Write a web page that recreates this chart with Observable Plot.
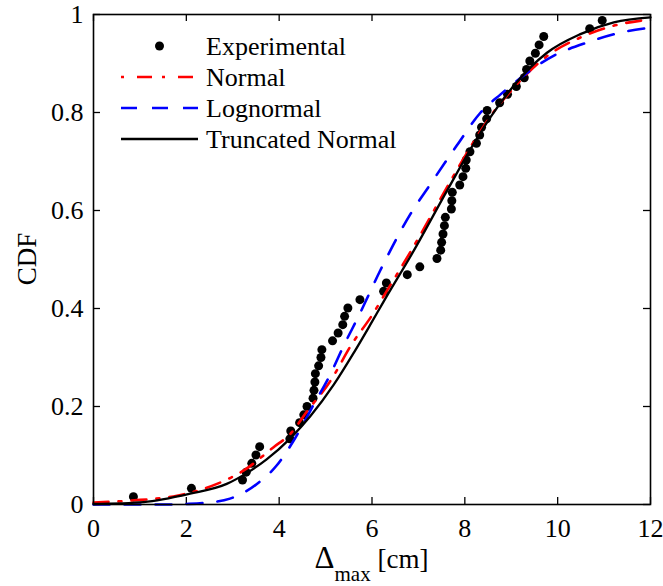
<!DOCTYPE html>
<html><head><meta charset="utf-8">
<script src="https://cdn.jsdelivr.net/npm/d3@7"></script>
<script src="https://cdn.jsdelivr.net/npm/@observablehq/plot@0.6"></script>
<style>
body{margin:0;background:#fff;}
#wrap{position:relative;width:663px;height:586px;}
svg, svg text, svg tspan{font-family:"Liberation Serif",serif !important;}
</style></head><body><div id="wrap"></div>
<script>
// Experimental CDF points
const expX = [0.86,2.11,3.21,3.29,3.41,3.50,3.58,4.23,4.25,4.44,4.53,4.60,4.73,4.75,4.77,4.78,4.85,4.90,4.92,5.15,5.27,5.37,5.41,5.48,5.74,6.25,6.31,6.76,7.03,7.40,7.48,7.50,7.53,7.56,7.58,7.71,7.72,7.73,7.89,7.96,8.02,8.03,8.11,8.25,8.32,8.36,8.47,8.48,8.75,8.92,9.11,9.28,9.33,9.40,9.52,9.60,9.70,10.69,10.96];
const expY = [0.016,0.033,0.050,0.066,0.084,0.101,0.118,0.134,0.150,0.167,0.183,0.200,0.217,0.233,0.250,0.267,0.283,0.300,0.316,0.334,0.350,0.367,0.384,0.401,0.418,0.435,0.452,0.469,0.485,0.502,0.519,0.535,0.552,0.569,0.586,0.603,0.620,0.637,0.652,0.669,0.686,0.703,0.720,0.737,0.754,0.770,0.787,0.804,0.820,0.837,0.853,0.871,0.888,0.905,0.921,0.938,0.955,0.971,0.988];
// Normal fit
const normX = [0,0.8,1.8,2.66,3.23,3.88,4.24,4.6,5.11,5.57,6.0,6.25,6.9,7.62,8.19,8.55,9.05,9.77,10.49,11.2,12];
const normY = [0.004,0.008,0.018,0.042,0.069,0.117,0.144,0.19,0.253,0.328,0.386,0.425,0.527,0.648,0.740,0.792,0.850,0.915,0.953,0.977,0.990];
// Lognormal fit
const lognX = [0,1.5,2.0,2.37,2.94,3.52,3.95,4.31,4.75,5.11,5.39,5.72,6.18,6.83,7.26,7.83,8.34,8.77,9.92,10.64,11.35,12];
const lognY = [0,0,0.001,0.003,0.012,0.042,0.08,0.13,0.205,0.267,0.324,0.386,0.478,0.593,0.654,0.733,0.800,0.837,0.916,0.943,0.963,0.973];
// Truncated normal fit
const truncX = [0,1.08,2.08,2.87,3.30,3.73,4.24,4.67,5.18,5.61,5.97,6.25,6.90,7.62,8.19,8.55,9.05,9.77,10.49,11.21,12];
const truncY = [0.001,0.005,0.022,0.042,0.064,0.092,0.135,0.180,0.245,0.310,0.368,0.414,0.518,0.641,0.736,0.790,0.854,0.922,0.960,0.984,0.994];

const xTicks = [0,2,4,6,8,10,12];
const yTicks = [0,0.2,0.4,0.6,0.8,1];
const yTickLabels = ["0","0.2","0.4","0.6","0.8","1"];
const seriesNames = ["Experimental","Normal","Lognormal","Truncated Normal"];
const xLabelMain = "\u0394", xLabelSub = "max", xLabelUnit = " [cm]";
const yLabel = "CDF";

const W = 663, H = 586, mL = 93, mR = 13, mT = 14, mB = 82;
const pw = W - mL - mR, ph = H - mT - mB;
const FONT = "Liberation Serif";
const tk = 7;

const pts = (xs, ys) => xs.map((x, i) => ({x, y: ys[i]}));

const chart = Plot.plot({
  width: W, height: H,
  marginLeft: mL, marginRight: mR, marginTop: mT, marginBottom: mB,
  style: {fontSize: "26px", background: "white", color: "black", overflow: "visible"},
  x: {domain: [0, 12]},
  y: {domain: [0, 1]},
  marks: [
    Plot.axisX(xTicks, {tickSize: 0, tickPadding: 14, label: null, fontSize: 26, fontVariant: "normal"}),
    Plot.axisY(yTicks, {tickSize: 0, tickPadding: 10, label: null, fontSize: 26, fontVariant: "normal",
      tickFormat: d => yTickLabels[yTicks.indexOf(d)]}),
    Plot.ruleX(xTicks, {x: d => d, insetTop: ph - tk, stroke: "black", strokeWidth: 1.3}),
    Plot.ruleX(xTicks, {x: d => d, insetBottom: ph - tk, stroke: "black", strokeWidth: 1.3}),
    Plot.ruleY(yTicks, {y: d => d, insetRight: pw - tk, stroke: "black", strokeWidth: 1.3}),
    Plot.ruleY(yTicks, {y: d => d, insetLeft: pw - tk, stroke: "black", strokeWidth: 1.3}),
    Plot.dot(pts(expX, expY), {x: "x", y: "y", r: 4.5, fill: "black", stroke: "none"}),
    Plot.line(pts(normX, normY), {x: "x", y: "y", curve: "monotone-x", stroke: "#ff0000", strokeWidth: 2.6, strokeDasharray: "15,10,3,10"}),
    Plot.line(pts(lognX, lognY), {x: "x", y: "y", curve: "monotone-x", stroke: "#0000ff", strokeWidth: 2.6, strokeDasharray: "16,15"}),
    Plot.line(pts(truncX, truncY), {x: "x", y: "y", curve: "monotone-x", stroke: "black", strokeWidth: 2.3}),
    Plot.frame({stroke: "black", strokeWidth: 1.6})
  ]
});
document.getElementById("wrap").appendChild(chart);

const svg = d3.select(chart);
// y axis label
svg.append("text")
  .attr("transform", `translate(${36},${mT + ph / 2}) rotate(-90)`)
  .attr("text-anchor", "middle")
  .style("font-size", "27px").attr("fill", "black")
  .text(yLabel);
// x axis label with subscript
const xl = svg.append("text")
  .attr("x", mL + pw / 2).attr("y", 568)
  .attr("text-anchor", "middle")
  .style("font-size", "27px").attr("fill", "black");
xl.append("tspan").style("font-size", "31px").text(xLabelMain);
xl.append("tspan").attr("dy", 13).style("font-size", "21px").text(xLabelSub);
xl.append("tspan").attr("dy", -13).text(xLabelUnit);

// legend
const lg = svg.append("g").style("font-size", "26px").attr("text-anchor", "start");
const rows = [46, 77, 108, 139];
const lx1 = 121, lx2 = 198, tx = 206;
lg.append("circle").attr("cx", (lx1 + lx2) / 2).attr("cy", rows[0]).attr("r", 4.5).attr("fill", "black");
lg.append("line").attr("x1", lx1).attr("x2", lx2).attr("y1", rows[1]).attr("y2", rows[1])
  .attr("stroke", "#ff0000").attr("stroke-width", 2.6).attr("stroke-dasharray", "3,13,15,10");
lg.append("line").attr("x1", lx1).attr("x2", lx2).attr("y1", rows[2]).attr("y2", rows[2])
  .attr("stroke", "#0000ff").attr("stroke-width", 2.6).attr("stroke-dasharray", "16,15");
lg.append("line").attr("x1", lx1).attr("x2", lx2).attr("y1", rows[3]).attr("y2", rows[3])
  .attr("stroke", "black").attr("stroke-width", 2.3);
seriesNames.forEach((n, i) => {
  lg.append("text").attr("x", tx).attr("y", rows[i]).attr("dy", "0.35em")
    .attr("text-anchor", "start").attr("fill", "black").text(n);
});
// force the serif family on every text node
svg.attr("font-family", FONT).style("font-family", FONT);
svg.selectAll("g, text, tspan").attr("font-family", FONT).style("font-family", FONT);
</script>
</body></html>
